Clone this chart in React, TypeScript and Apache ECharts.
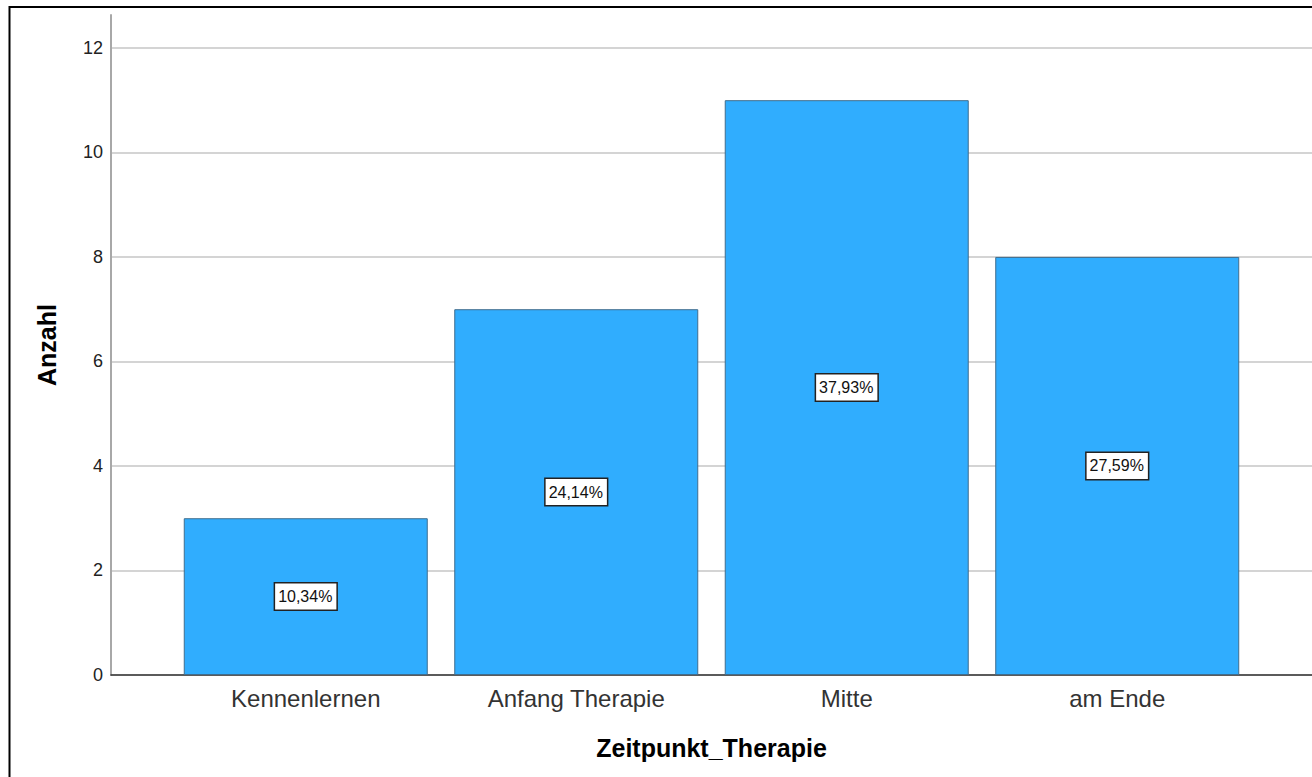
import React, { useEffect, useRef } from "react";
import * as echarts from "echarts";

const categories = ["Kennenlernen", "Anfang Therapie", "Mitte", "am Ende"];
const counts = [3, 7, 11, 8];
const percentLabels = ["10,34%", "24,14%", "37,93%", "27,59%"];
const yTicks = [0, 2, 4, 6, 8, 10, 12];

const FIRST_POS = 36;
const STEP = 50;
const X_MAX = 222;

export default function App() {
  const ref = useRef<HTMLDivElement>(null);
  useEffect(() => {
    document.body.style.margin = "0";
    const chart = echarts.init(ref.current!, null, { renderer: "svg" });
    const positions = categories.map((_, i) => FIRST_POS + STEP * i);
    chart.setOption({
      animation: false,
      backgroundColor: "#ffffff",
      textStyle: { fontFamily: "Liberation Sans, Arial, sans-serif" },
      graphic: [
        {
          type: "rect",
          shape: { x: 9.5, y: 7, width: 1400, height: 900 },
          style: { fill: "none", stroke: "#000", lineWidth: 2 },
          silent: true,
          z: 100,
        },
      ],
      grid: { left: 111, top: 15, right: 0, bottom: 102, containLabel: false },
      xAxis: {
        type: "value",
        min: 0,
        max: X_MAX,
        interval: 1,
        name: "Zeitpunkt_Therapie",
        nameLocation: "middle",
        nameGap: 60,
        nameTextStyle: { fontSize: 25, fontWeight: "bold", color: "#000" },
        axisLine: { show: true, onZero: false, lineStyle: { color: "#333", width: 1.5 } },
        axisTick: { show: false },
        splitLine: { show: false },
        axisLabel: {
          fontSize: 24,
          color: "#333",
          margin: 11,
          showMinLabel: false,
          showMaxLabel: false,
          formatter: (v: number) => {
            const idx = (v - FIRST_POS) / STEP;
            return Number.isInteger(idx) && idx >= 0 && idx < categories.length ? categories[idx] : "";
          },
        },
      },
      yAxis: {
        type: "value",
        min: 0,
        max: 12.63,
        interval: 2,
        name: "Anzahl",
        nameLocation: "middle",
        nameGap: 52,
        nameRotate: 90,
        nameTextStyle: { fontSize: 25, fontWeight: "bold", color: "#000" },
        axisLine: { show: true, lineStyle: { color: "#a8a8a8", width: 2 } },
        axisTick: { show: false },
        splitLine: { show: true, showMaxLine: false, lineStyle: { color: "#d4d4d4", width: 2 } },
        axisLabel: {
          fontSize: 18,
          color: "#222",
          margin: 8,
          showMaxLabel: false,
          formatter: (v: number) => (yTicks.includes(v) ? String(v) : ""),
        },
      },
      series: [
        {
          type: "bar",
          barWidth: 244,
          data: counts.map((c, i) => [positions[i], c]),
          itemStyle: { color: "#30adfe", borderColor: "#3f6d8e", borderWidth: 1 },
          label: {
            show: true,
            position: "inside",
            formatter: (p: any) => percentLabels[p.dataIndex],
            fontSize: 16,
            color: "#111",
            backgroundColor: "#fff",
            borderColor: "#222",
            borderWidth: 1.5,
            padding: [6, 4, 4, 3],
          },
        },
      ],
    });
    return () => chart.dispose();
  }, []);
  return <div ref={ref} style={{ width: 1312, height: 777 }} />;
}
